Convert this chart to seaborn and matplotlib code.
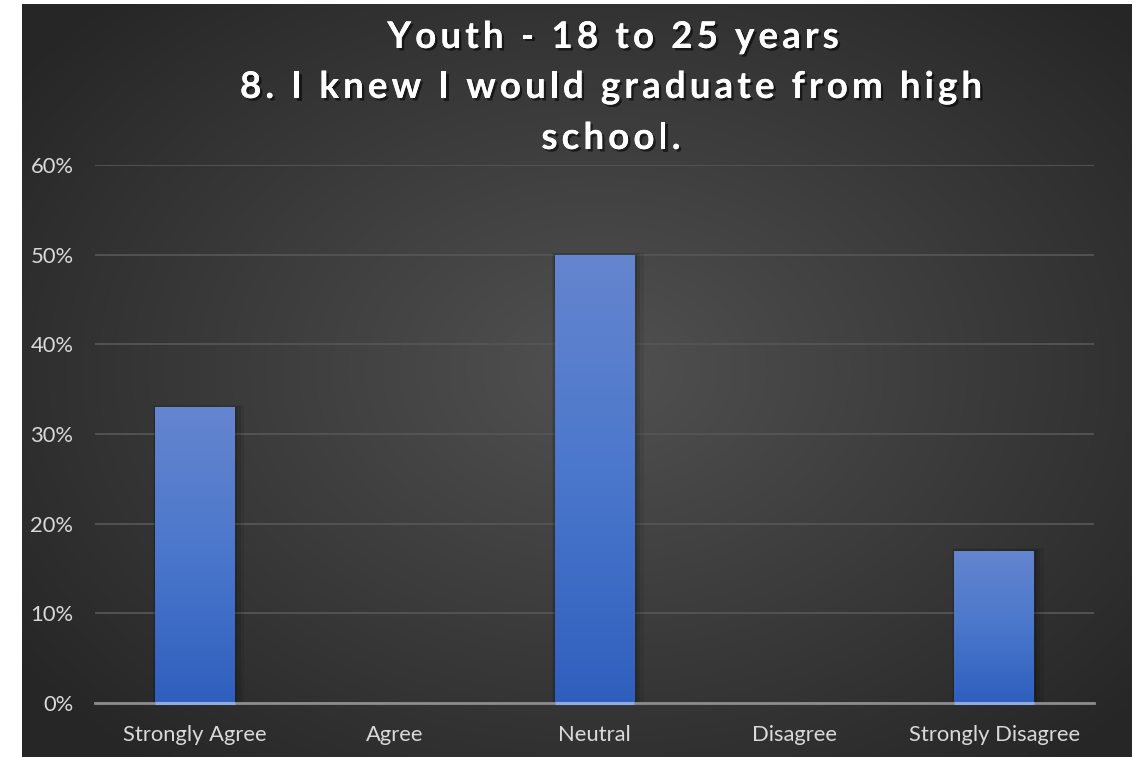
import numpy as np
import pandas as pd
import matplotlib
matplotlib.use("Agg")
import matplotlib.pyplot as plt
import matplotlib.patheffects as pe
from matplotlib.colors import LinearSegmentedColormap
from matplotlib.patches import Rectangle
from matplotlib.font_manager import FontProperties
import seaborn as sns

# ---- data ----
categories = ["Strongly Agree", "Agree", "Neutral", "Disagree", "Strongly Disagree"]
values = [33, 0, 50, 0, 17]
yticks = [0, 10, 20, 30, 40, 50, 60]
title_lines = ["Youth - 18 to 25 years", "8. I knew I would graduate from high", "school."]

sns.set_theme(style="white")
plt.rcParams["font.family"] = ["Lato", "DejaVu Sans"]

W, H = 1141, 757
fig = plt.figure(figsize=(W / 100, H / 100), dpi=100)
fig.patch.set_facecolor("white")

# ---- dark radial-gradient background ----
bx0, bx1, by0, by1 = 22, 1132, 4, 757
bg = fig.add_axes([bx0 / W, 1 - by1 / H, (bx1 - bx0) / W, (by1 - by0) / H])
bg.set_axis_off()
gx = np.linspace(bx0, bx1, 400)
gy = np.linspace(by0, by1, 300)
GX, GY = np.meshgrid(gx, gy)
r = np.sqrt(((GX - 600) / 720) ** 2 + ((GY - 370) / 520) ** 2)
lum = (81 - 43 * np.clip(r, 0, 1)) / 255.0
img = np.dstack([lum, lum, lum])
bg.imshow(img, extent=[0, 1, 0, 1], aspect="auto", origin="upper")
bg.set_xlim(0, 1)
bg.set_ylim(0, 1)

# ---- main axes ----
ax_l, ax_r, ax_t, ax_b = 95, 1094, 165, 703
ax = fig.add_axes([ax_l / W, 1 - ax_b / H, (ax_r - ax_l) / W, (ax_b - ax_t) / H])
ax.patch.set_alpha(0)

df = pd.DataFrame({"cat": categories, "val": values})
sns.barplot(data=df, x="cat", y="val", ax=ax, width=0.4, color="#4472c4",
            saturation=1, zorder=3)

cmap = LinearSegmentedColormap.from_list("bar", ["#2f5fbe", "#4a77cc", "#6585cf"])
grad = np.linspace(0, 1, 256).reshape(-1, 1)
for p in list(ax.patches):
    x0, y0 = p.get_x(), p.get_y()
    w, h = p.get_width(), p.get_height()
    if h <= 0:
        p.set_visible(False)
        continue
    # soft shadow
    for k, a in [(0.03, 0.07), (0.018, 0.09), (0.008, 0.12)]:
        ax.add_patch(Rectangle((x0 - k * 0.4, 0), w + 2.0 * k, h + k * 8,
                               facecolor="black", alpha=a, lw=0, zorder=2))
    im = ax.imshow(grad, extent=[x0, x0 + w, 0, h], origin="lower", cmap=cmap,
                   aspect="auto", zorder=3)
    im.set_clip_path(p)
    p.set_facecolor("none")
    p.set_edgecolor("none")
    ax.plot([x0, x0 + w], [0, 0], color="#8eabe6", lw=2.2, zorder=5,
            solid_capstyle="butt", clip_on=False)

ax.set_xlim(-0.5, len(categories) - 0.5)
ax.set_ylim(0, 60)

# grid
ax.set_yticks(yticks)
ax.set_yticklabels([f"{v}%" for v in yticks])
ax.yaxis.grid(True, color="#555555", lw=1.3, zorder=1)
ax.xaxis.grid(False)
ax.set_axisbelow(True)

for s in ["left", "right", "top"]:
    ax.spines[s].set_visible(False)
ax.spines["bottom"].set_color("#8c8c8c")
ax.spines["bottom"].set_linewidth(2)
ax.spines["bottom"].set_zorder(4)

ax.set_xticks(range(len(categories)))
ax.set_xticklabels(categories)
ax.set_xticks(np.arange(-0.5, len(categories), 1.0), minor=True)
ax.tick_params(axis="x", which="major", length=0, pad=16, labelsize=15.8,
               labelcolor="#d9d9d9")
ax.tick_params(axis="x", which="minor", length=6, width=2, color="#8c8c8c",
               direction="out")
ax.tick_params(axis="y", length=0, pad=15.5, labelsize=15.8, labelcolor="#d9d9d9")
ax.set_xlabel("")
ax.set_ylabel("")

# ---- title with letter spacing ----
prop = FontProperties(family=["Lato", "DejaVu Sans"], weight="bold", size=26.5)
renderer = fig.canvas.get_renderer()


def tw(s):
    return renderer.get_text_width_height_descent(s, prop, ismath=False)[0]


target_w = 742.0
ref = title_lines[1]
spacing = (target_w - tw(ref)) / (len(ref) - 1)
centers_x = [613, 611, 611]
baselines = [48, 98, 149]
shadow = [pe.withSimplePatchShadow(offset=(1.8, -1.8), shadow_rgbFace="black", alpha=0.55),
          pe.Normal()]
wx = tw("x")
for line, cx, by in zip(title_lines, centers_x, baselines):
    total = tw(line) + spacing * (len(line) - 1)
    start = cx - total / 2
    for i, ch in enumerate(line):
        if ch == " ":
            continue
        off = (tw(line[:i] + "x") - wx) if i > 0 else 0.0
        px = start + off + spacing * i
        fig.text(px / W, 1 - by / H, ch, ha="left", va="baseline",
                 fontproperties=prop, color="white", path_effects=shadow)

fig.savefig("out.png", dpi=100, facecolor=fig.get_facecolor())
